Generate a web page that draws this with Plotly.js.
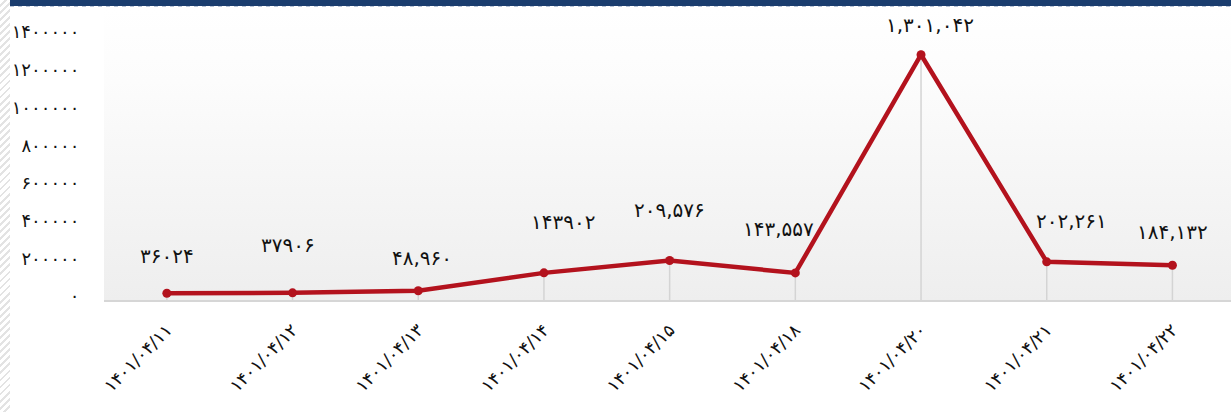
<!DOCTYPE html>
<html>
<head>
<meta charset="utf-8">
<script src="https://cdn.plot.ly/plotly-3.0.1.min.js"></script>
<style>
  html, body { margin: 0; padding: 0; background: #ffffff; width: 1231px; height: 412px; overflow: hidden; }
  #hatch { position: absolute; left: 0; top: 0; width: 10px; height: 412px;
    background: repeating-linear-gradient(135deg, #ffffff 0px, #ffffff 3px, #e3e3e3 3px, #e3e3e3 5px); }
  #topbar { position: absolute; left: 10px; top: 0; width: 1221px; height: 6px; background: #1a3d6e; }
  #topdash { position: absolute; left: 10px; top: 6px; width: 1221px; height: 1px;
    background: repeating-linear-gradient(90deg, #b8c4d6 0px, #b8c4d6 4px, #ffffff 4px, #ffffff 8px); }
  #plotbg { position: absolute; left: 104px; top: 8px; width: 1127px; height: 292px;
    background: linear-gradient(to bottom, #ffffff 0%, #fcfcfc 25%, #eeeeee 100%); }
  #chart { position: absolute; left: 0; top: 0; width: 1231px; height: 412px; }
</style>
</head>
<body>
<div id="hatch"></div>
<div id="plotbg"></div>
<div id="chart"></div>
<div id="topbar"></div>
<div id="topdash"></div>
<script>
// ---- data ----
const categories = ["۱۴۰۱/۰۴/۱۱", "۱۴۰۱/۰۴/۱۲", "۱۴۰۱/۰۴/۱۳", "۱۴۰۱/۰۴/۱۴", "۱۴۰۱/۰۴/۱۵", "۱۴۰۱/۰۴/۱۸", "۱۴۰۱/۰۴/۲۰", "۱۴۰۱/۰۴/۲۱", "۱۴۰۱/۰۴/۲۲"];
const values = [36024, 37906, 48960, 143902, 209576, 143557, 1301042, 202261, 184132];
const valueLabels = ["۳۶۰۲۴", "۳۷۹۰۶", "۴۸,۹۶۰", "۱۴۳۹۰۲", "۲۰۹,۵۷۶", "۱۴۳,۵۵۷", "۱,۳۰۱,۰۴۲", "۲۰۲,۲۶۱", "۱۸۴,۱۳۲"];
const yTickValues = [0, 200000, 400000, 600000, 800000, 1000000, 1200000, 1400000];
const yTickText = ["۰", "۲۰۰۰۰۰", "۴۰۰۰۰۰", "۶۰۰۰۰۰", "۸۰۰۰۰۰", "۱۰۰۰۰۰۰", "۱۲۰۰۰۰۰", "۱۴۰۰۰۰۰"];

// ---- label offsets (pixels, style only) ----
const labelDx = [0, -5, 4, 19, 0, -17, 9, 25, 0];
const labelDy = [37, 48, 33, 51, 50, 44, 30, 41, 33];

const FONT = "DejaVu Sans, sans-serif";
const lineColor = "#b3121d";

const dropLines = {
  type: "scatter", mode: "markers",
  x: categories, y: values,
  marker: { size: 1, opacity: 0 },
  error_y: { type: "data", symmetric: false, array: values.map(() => 0), arrayminus: values,
             width: 0, color: "#d4d4d4", thickness: 1.5 },
  hoverinfo: "skip", showlegend: false
};

const mainLine = {
  type: "scatter", mode: "lines+markers",
  x: categories, y: values,
  line: { color: lineColor, width: 4.5 },
  marker: { color: lineColor, size: 9 },
  showlegend: false
};

const annotations = categories.map((c, i) => ({
  x: c, y: values[i], xref: "x", yref: "y",
  text: valueLabels[i], showarrow: false,
  xshift: labelDx[i], yshift: labelDy[i],
  font: { family: FONT, size: 20, color: "#111111" }
}));

const layout = {
  width: 1231, height: 412,
  margin: { l: 104, r: 0, t: 8, b: 112, pad: 0 },
  paper_bgcolor: "rgba(0,0,0,0)",
  plot_bgcolor: "rgba(0,0,0,0)",
  showlegend: false,
  font: { family: FONT, color: "#111111" },
  xaxis: {
    type: "category",
    range: [-0.5, 8.466],
    showgrid: false, zeroline: false,
    showline: true, linecolor: "#d6d6d6", linewidth: 2,
    ticks: "outside", ticklen: 11, tickcolor: "rgba(0,0,0,0)",
    tickangle: -45,
    tickfont: { family: FONT, size: 17.5, color: "#111111" },
    fixedrange: true
  },
  yaxis: {
    range: [0, 1549000],
    tickvals: yTickValues, ticktext: yTickText,
    showgrid: false, zeroline: false, showline: false,
    ticks: "outside", ticklen: 20, tickcolor: "rgba(0,0,0,0)",
    ticklabelshift: -4,
    tickfont: { family: FONT, size: 18, color: "#111111" },
    fixedrange: true
  },
  annotations: annotations
};

Plotly.newPlot("chart", [dropLines, mainLine], layout, { displayModeBar: false, staticPlot: true });
</script>
</body>
</html>
